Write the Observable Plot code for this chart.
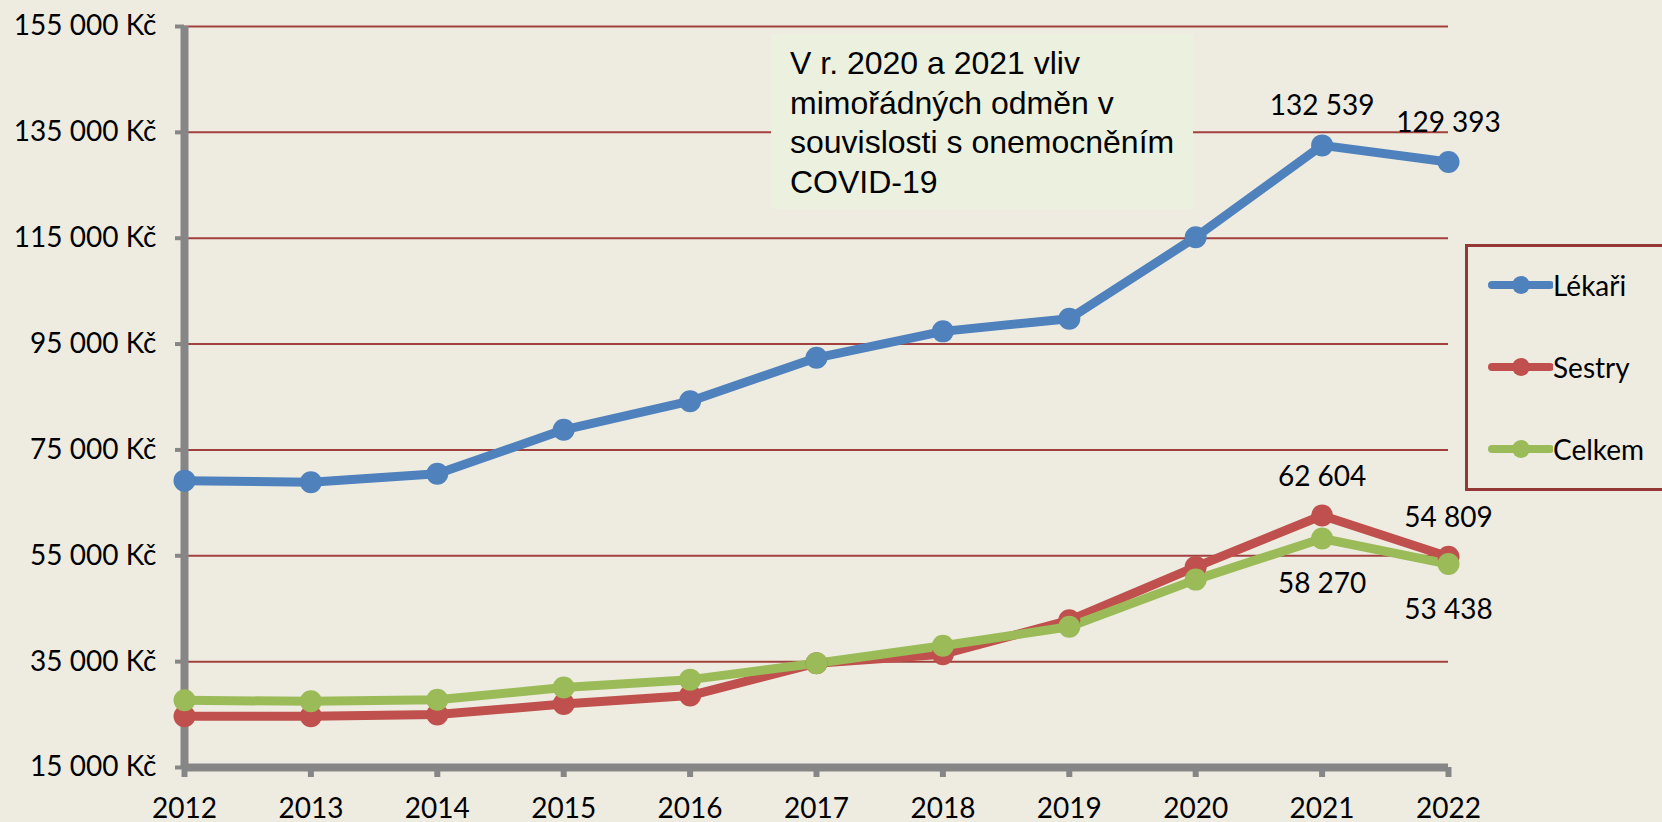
<!DOCTYPE html>
<html>
<head>
<meta charset="utf-8">
<script src="https://cdn.jsdelivr.net/npm/d3@7"></script>
<script src="https://cdn.jsdelivr.net/npm/@observablehq/plot@0.6"></script>
<style>
  html, body { margin: 0; padding: 0; background: #EEECE1; overflow: hidden; width: 1662px; height: 822px; }
  #wrap { position: relative; width: 1662px; height: 822px; }
  #note { position: absolute; left: 771px; top: 34px; width: 403px; height: 165px; padding: 10px 0 0 19px;
          background: #EBF1DE; font-family: "Liberation Sans", Arial, sans-serif; font-size: 32px; line-height: 39.6px;
          color: #000; white-space: pre; }
  #legend { position: absolute; left: 1465px; top: 244px; width: 300px; height: 241px; border: 3px solid #953735; }
  #legend .rows { margin-top: -3px; }
  #legend .row { height: 82px; display: flex; align-items: center; font-family: Lato, sans-serif; font-size: 28px; color: #000; }
  #legend svg { display: block; }
</style>
</head>
<body>
<div id="wrap"></div>
<script>
const years = [2012, 2013, 2014, 2015, 2016, 2017, 2018, 2019, 2020, 2021, 2022];
const lekari = [69200, 68900, 70500, 78800, 84200, 92400, 97400, 99800, 115200, 132539, 129393];
const sestry = [24700, 24700, 25000, 27000, 28600, 34700, 36400, 42800, 52900, 62604, 54809];
const celkem = [27700, 27500, 27800, 30100, 31600, 34700, 38000, 41600, 50500, 58270, 53438];
const seriesNames = ["Lékaři", "Sestry", "Celkem"];
const seriesColors = ["#4F81BD", "#C0504D", "#9BBB59"];
const yTicks = [15000, 35000, 55000, 75000, 95000, 115000, 135000, 155000];
const labelYears = [2021, 2022];
const noteLines = ["V r. 2020 a 2021 vliv", "mimořádných odměn v", "souvislosti s onemocněním", "COVID-19"];

const valuesBySeries = [lekari, sestry, celkem];
const data = [];
seriesNames.forEach((s, i) => years.forEach((yr, j) => data.push({series: s, year: yr, value: valuesBySeries[i][j]})));
const labels = data.filter(d => labelYears.includes(d.year));

const fmt = v => d3.format(",")(v).replace(/,/g, " ");
const axisGray = "#868686";
const gridRed = "#A2403D";

const chart = Plot.plot({
  width: 1662,
  height: 822,
  marginLeft: 184,
  marginRight: 214,
  marginTop: 26,
  marginBottom: 55,
  style: {background: "transparent", fontFamily: "Lato, sans-serif", fontSize: "28px", color: "#000", overflow: "visible"},
  x: {type: "linear", domain: [2012, 2022]},
  y: {domain: [15000, 155000]},
  color: {domain: seriesNames, range: seriesColors},
  marks: [
    Plot.ruleY(yTicks.filter(t => t !== 15000), {stroke: gridRed, strokeWidth: 2}),
    Plot.axisY({ticks: yTicks, tickFormat: v => fmt(v) + " Kč", tickSize: 9, tickPadding: 19,
                stroke: axisGray, strokeWidth: 4, fill: "#000", fontSize: 28, label: null}),
    Plot.axisX({ticks: years, tickFormat: d => String(d), tickSize: 10, tickPadding: 21,
                stroke: axisGray, strokeWidth: 6, fill: "#000", fontSize: 28, label: null}),
    Plot.ruleX([2012], {stroke: axisGray, strokeWidth: 8}),
    Plot.ruleY([15000], {stroke: axisGray, strokeWidth: 8}),
    Plot.line(data, {x: "year", y: "value", z: "series", stroke: "series", strokeWidth: 9, strokeLinejoin: "round"}),
    Plot.dot(data, {x: "year", y: "value", fill: "series", r: 11, stroke: "none"}),
    Plot.text(labels.filter(d => d.series !== "Celkem"), {x: "year", y: "value", text: d => fmt(d.value), dy: -39, fontSize: 28, fill: "#000"}),
    Plot.text(labels.filter(d => d.series === "Celkem"), {x: "year", y: "value", text: d => fmt(d.value), dy: 46, fontSize: 28, fill: "#000"})
  ]
});

const wrap = document.getElementById("wrap");
wrap.appendChild(chart);

const note = document.createElement("div");
note.id = "note";
note.textContent = noteLines.join("\n");
wrap.appendChild(note);

const legend = document.createElement("div");
legend.id = "legend";
const rows = document.createElement("div");
rows.className = "rows";
seriesNames.forEach((name, i) => {
  const row = document.createElement("div");
  row.className = "row";
  const svg = d3.create("svg").attr("width", 85).attr("height", 30);
  svg.append("line").attr("x1", 24).attr("x2", 82).attr("y1", 15).attr("y2", 15)
     .attr("stroke", seriesColors[i]).attr("stroke-width", 8).attr("stroke-linecap", "round");
  svg.append("circle").attr("cx", 53).attr("cy", 15).attr("r", 9).attr("fill", seriesColors[i]);
  row.appendChild(svg.node());
  const span = document.createElement("span");
  span.textContent = name;
  row.appendChild(span);
  rows.appendChild(row);
});
legend.appendChild(rows);
wrap.appendChild(legend);
</script>
</body>
</html>
